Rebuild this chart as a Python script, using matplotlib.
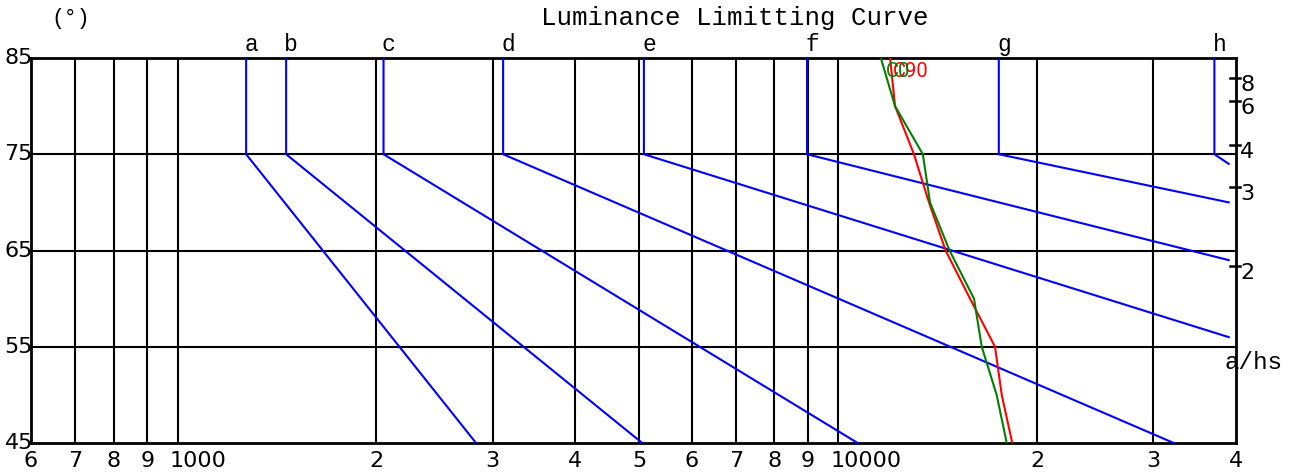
import numpy as np
import matplotlib
matplotlib.use("Agg")
import matplotlib.pyplot as plt

# ---------------- data ----------------
x_min, x_max = 600, 40000
y_min, y_max = 45, 85
x_grid = [700, 800, 900, 1000, 2000, 3000, 4000, 5000, 6000, 7000, 8000, 9000,
          10000, 20000, 30000]
y_grid = [55, 65, 75]
x_ticks = [600, 700, 800, 900, 1000, 2000, 3000, 4000, 5000, 6000, 7000, 8000,
           9000, 10000, 20000, 30000, 40000]
x_tick_labels = ['6', '7', '8', '9', '1000', '2', '3', '4', '5', '6', '7', '8',
                 '9', '10000', '2', '3', '4']
y_ticks = [45, 55, 65, 75, 85]
y_tick_labels = ['45', '55', '65', '75', '85']
ahs_ticks = [2, 3, 4, 6, 8]

# luminance limiting lines a..h
line_names = ['a', 'b', 'c', 'd', 'e', 'f', 'g', 'h']
line_top = [85, 85, 85, 85, 85, 85, 85, 85]
line_knee = [75, 75, 75, 75, 75, 75, 75, 75]
line_L = [1270, 1460, 2050, 3110, 5080, 8970, 17500, 37100]
line_end_L = [2830, 5050, 10700, 32200, 39000, 39000, 39000, 39000]
line_end_angle = [45, 45, 45, 45, 56, 64, 70, 74]

# measured luminance curves
curve_angles = [85, 80, 75, 70, 65, 60, 55, 50, 45]
c0_values = [11600, 12190, 13430, 13770, 14740, 16050, 16490, 17370, 17990]
c90_values = [11980, 12190, 13020, 13720, 14540, 15830, 17270, 17680, 18340]

# ---------------- figure ----------------
W, H = 1297, 473
fig = plt.figure(figsize=(W / 100, H / 100), dpi=100)
ax = fig.add_axes([31 / W, 30 / H, 1205 / W, 385 / H])
ax.set_xscale('log')
ax.set_xlim(x_min, x_max)
ax.set_ylim(y_min, y_max)

PX = 72 / 100  # points per pixel
mono = 'Liberation Mono'
tick_font = dict(family='DejaVu Sans', size=16, color='black')

for s in ax.spines.values():
    s.set_linewidth(2.0)
    s.set_color('black')
ax.set_xticks([])
ax.set_yticks([])
ax.xaxis.set_minor_locator(matplotlib.ticker.NullLocator())
ax.yaxis.set_minor_locator(matplotlib.ticker.NullLocator())

for xv in x_grid:
    ax.axvline(xv, color='black', lw=1.5, zorder=1)
for yv in y_grid:
    ax.axhline(yv, color='black', lw=1.5, zorder=1)

# blue limiting lines
for name, yt, yk, L, xe, ye in zip(line_names, line_top, line_knee, line_L,
                                    line_end_L, line_end_angle):
    ax.plot([L, L, xe], [yt, yk, ye], color='#0000ff', lw=1.5, zorder=3,
            solid_joinstyle='miter')
    ax.annotate(name, xy=(L, yt), xytext=(5 * PX, 7 * PX),
                textcoords='offset points', ha='center', va='baseline',
                family=mono, size=16.5, color='black', annotation_clip=False)

# curves
ax.plot(c90_values, curve_angles, color='#ff0000', lw=1.5, zorder=4)
ax.plot(c0_values, curve_angles, color='#008000', lw=1.5, zorder=4)
ax.annotate('C90', xy=(c90_values[0], curve_angles[0]), xytext=(3 * PX, -13 * PX),
            textcoords='offset points', ha='left', va='center',
            family=['Roboto', 'DejaVu Sans'], size=14.5,
            color='#ff0000', annotation_clip=False, zorder=5)
ax.annotate('C0', xy=(c0_values[0], curve_angles[0]), xytext=(5 * PX, -13 * PX),
            textcoords='offset points', ha='left', va='center',
            family=['Roboto', 'DejaVu Sans'], size=14.5,
            color='#008000', annotation_clip=False, zorder=5)

# bottom tick labels
for xv, lab in zip(x_ticks, x_tick_labels):
    if len(lab) > 1:
        ha, dx = 'left', -8 * PX
    else:
        ha, dx = 'center', 0
    ax.annotate(lab, xy=(xv, 0), xycoords=('data', 'axes fraction'),
                xytext=(dx, -8 * PX), textcoords='offset points',
                ha=ha, va='top', annotation_clip=False, **tick_font)

# left tick labels
for yv, lab in zip(y_ticks, y_tick_labels):
    ax.annotate(lab, xy=(0, yv), xycoords=('axes fraction', 'data'),
                xytext=(2 * PX, 0), textcoords='offset points',
                ha='right', va='center', annotation_clip=False, **tick_font)

# right a/hs axis
for v in ahs_ticks:
    ang = np.degrees(np.arctan(v))
    ax.plot([0.9950, 1.0033], [ang, ang], transform=ax.get_yaxis_transform(),
            color='black', lw=1.8, clip_on=False, zorder=6)
    ax.annotate(str(v), xy=(1, ang), xycoords=('axes fraction', 'data'),
                xytext=(4 * PX, 3 * PX), textcoords='offset points',
                ha='left', va='top', annotation_clip=False, **tick_font)

ax.annotate('a/hs', xy=(1, 55), xycoords=('axes fraction', 'data'),
            xytext=(-12 * PX, -16 * PX), textcoords='offset points',
            ha='left', va='center', family=mono, size=17.5, color='black',
            annotation_clip=False)

# titles
fig.text(734.5 / W, 1 - 25 / H, 'Luminance Limitting Curve', family=mono,
         size=18.6, ha='center', va='baseline', color='black')
fig.text(71 / W, 1 - 24 / H, '(°)', family=mono, size=15.5, ha='center',
         va='baseline', color='black')

fig.savefig('out.png', dpi=100, facecolor='white')
